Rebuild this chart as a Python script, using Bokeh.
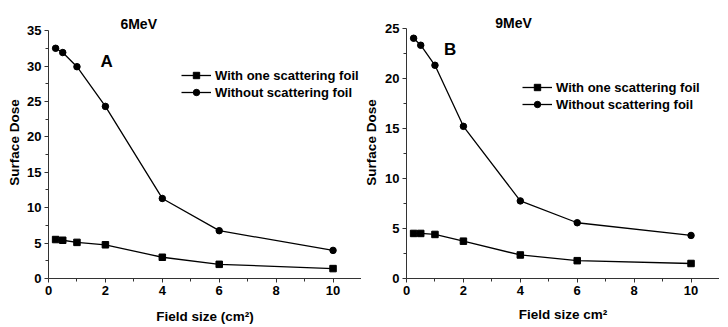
from bokeh.plotting import figure
from bokeh.layouts import row
from bokeh.models import Legend, LegendItem, Label, FixedTicker, Range1d
from bokeh.embed import file_html
from bokeh.resources import INLINE

field_size = [0.25, 0.5, 1, 2, 4, 6, 10]
with_foil_6 = [5.5, 5.4, 5.1, 4.76, 3.0, 2.0, 1.4]
without_foil_6 = [32.5, 31.9, 29.9, 24.3, 11.3, 6.75, 3.97]
with_foil_9 = [4.5, 4.5, 4.4, 3.73, 2.35, 1.78, 1.5]
without_foil_9 = [24.0, 23.3, 21.3, 15.2, 7.75, 5.57, 4.3]
legend_labels = ["With one scattering foil", "Without scattering foil"]

FONT = "Liberation Sans"


def make(xlabel, title, letter, wf, wo, ymax, yend, minor, title_xy, letter_xy, leg_xy,
         bl, bb, w, h, xstand, ystand):
    p = figure(width=w, height=h, output_backend="svg", toolbar_location=None,
               x_range=Range1d(0, 11), y_range=Range1d(0, yend),
               min_border_left=bl, min_border_right=0, min_border_top=6, min_border_bottom=bb)
    p.outline_line_color = None
    p.grid.visible = False
    l1 = p.line(field_size, wf, line_color="black", line_width=1.3)
    l2 = p.line(field_size, wo, line_color="black", line_width=1.3)
    # small markers (used for the legend), covered by the larger plot markers
    lm1 = p.scatter(field_size, wf, marker="square", size=4.5, color="black")
    lm2 = p.scatter(field_size, wo, marker="circle", size=5, color="black")
    p.scatter(field_size, wf, marker="square", size=6.5, color="black")
    p.scatter(field_size, wo, marker="circle", size=6.5, color="black")
    p.xaxis.ticker = FixedTicker(ticks=[0, 2, 4, 6, 8, 10], minor_ticks=[1, 3, 5, 7, 9, 11])
    p.yaxis.ticker = FixedTicker(ticks=list(range(0, ymax + 1, 5)), minor_ticks=minor)
    p.yaxis.bounds = (0, ymax)
    for ax in (p.xaxis[0], p.yaxis[0]):
        ax.major_label_text_font = FONT
        ax.major_label_text_font_style = "bold"
        ax.major_label_text_font_size = "13px"
        ax.major_label_text_color = "black"
        ax.axis_label_text_font = FONT
        ax.axis_label_text_font_style = "bold"
        ax.axis_label_text_font_size = "13.5px"
        ax.axis_label_text_color = "black"
        ax.axis_line_color = "#333333"
        ax.major_tick_line_color = "#333333"
        ax.minor_tick_line_color = "#333333"
        ax.major_tick_out = 4
        ax.major_tick_in = 0
        ax.minor_tick_out = 3
        ax.minor_tick_in = 0
        ax.major_label_standoff = 3
    p.xaxis.axis_label = xlabel
    p.yaxis.axis_label = "Surface Dose"
    p.xaxis.axis_label_standoff = xstand
    p.yaxis.axis_label_standoff = ystand
    leg = Legend(items=[LegendItem(label=legend_labels[0], renderers=[l1, lm1]),
                        LegendItem(label=legend_labels[1], renderers=[l2, lm2])],
                 location=leg_xy, padding=0, margin=0, spacing=1,
                 glyph_width=30, glyph_height=16, label_height=16, label_standoff=4,
                 border_line_color=None, background_fill_alpha=0,
                 label_text_font=FONT, label_text_font_style="bold", label_text_font_size="13px",
                 label_text_color="black")
    p.add_layout(leg)
    p.add_layout(Label(x=title_xy[0], y=title_xy[1], text=title, text_font=FONT, text_font_style="bold",
                       text_font_size="14px", text_align="center", text_baseline="middle",
                       text_color="black"))
    p.add_layout(Label(x=letter_xy[0], y=letter_xy[1], text=letter, text_font=FONT, text_font_style="bold",
                       text_font_size="17px", text_align="center", text_baseline="middle",
                       text_color="black"))
    return p


p1 = make("Field size (cm²)", "6MeV", "A", with_foil_6, without_foil_6, 35, 38.4,
          [2.5, 7.5, 12.5, 17.5, 22.5, 27.5, 32.5], (3.17, 35.9), (2.04, 30.7), (133, 178),
          48, 49, 361, 327, 11, 2)
p2 = make("Field size cm²", "9MeV", "B", with_foil_9, without_foil_9, 25, 27.17,
          [2.5, 7.5, 12.5, 17.5, 22.5], (3.76, 25.5), (1.53, 22.9), (116, 166),
          43, 46, 358, 327, 9, 3)

layout = row(p1, p2, spacing=0)
open("out.html", "w").write(file_html(layout, INLINE))
